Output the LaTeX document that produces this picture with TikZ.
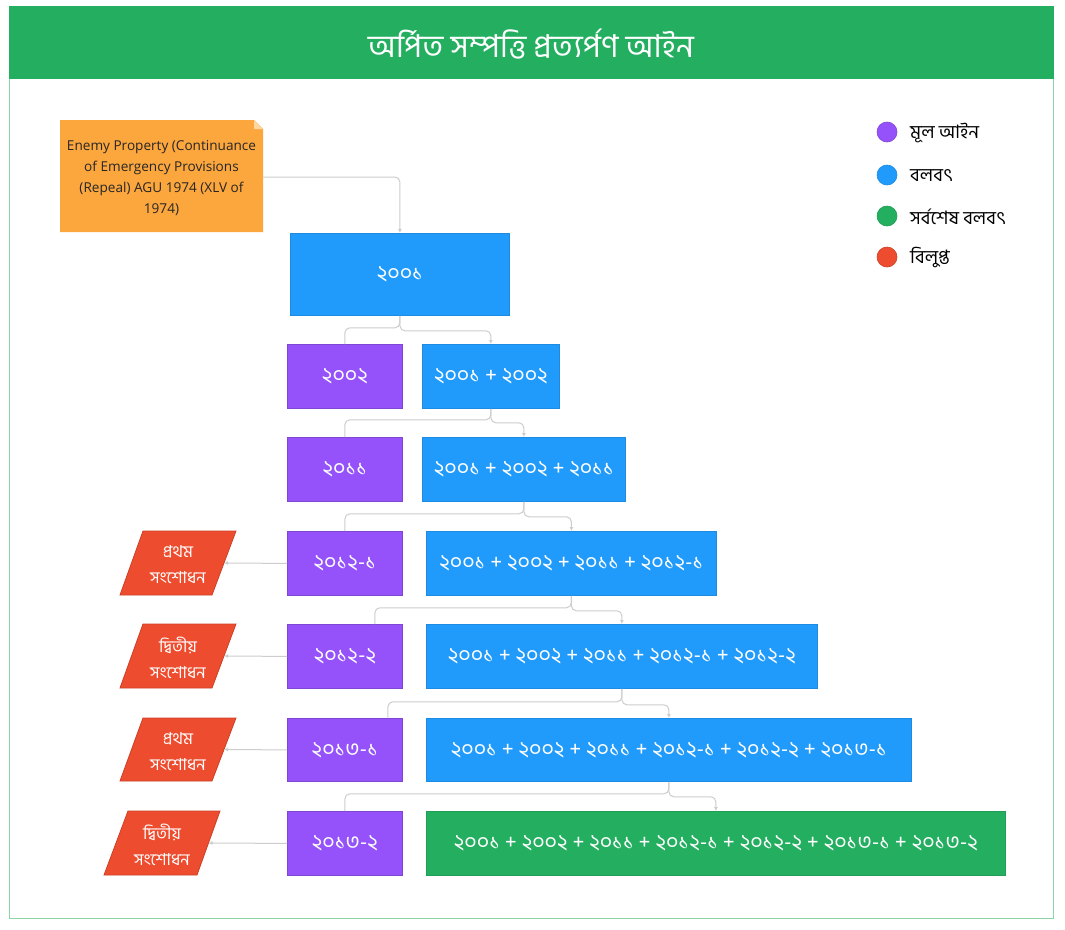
\documentclass[tikz,border=0pt]{standalone}
\usepackage{fontspec}
\setmainfont{Open Sans}
\newfontfamily\bn[Script=Bengali]{Hind Siliguri}
\usetikzlibrary{arrows.meta}
\definecolor{titlegreen}{RGB}{36,174,96}
\definecolor{framegreen}{RGB}{140,212,165}
\definecolor{cpurple}{RGB}{149,82,250}
\definecolor{cblue}{RGB}{33,155,251}
\definecolor{cgreen}{RGB}{36,174,96}
\definecolor{cred}{RGB}{238,76,46}
\definecolor{corange}{RGB}{252,166,62}
\definecolor{cfold}{RGB}{254,214,160}
\definecolor{cline}{RGB}{205,205,205}
\tikzset{
  box/.style={draw, line width=0.8pt, inner sep=0pt, anchor=north west,
    text=white, font=\bn\fontsize{21.6}{24}\selectfont, minimum height=64pt},
  pbox/.style={box, fill=cpurple, draw=cpurple!85!black, minimum width=115pt},
  bbox/.style={box, fill=cblue, draw=cblue!90!black},
  gbox/.style={box, fill=cgreen, draw=cgreen!90!black},
  redtext/.style={text=white, align=center, inner sep=0pt,
    font=\bn\fontsize{16.5}{26}\selectfont},
  redshape/.style={fill=cred, draw=cred!85!black, line width=0.8pt},
  conn/.style={draw=cline, line width=1pt, rounded corners=5pt},
  arr/.style={conn, -{Latex[length=4pt,width=4pt]}},
  legdot/.style={circle, inner sep=0pt, minimum size=20pt, line width=0.6pt},
  legtext/.style={anchor=west, inner sep=0pt, font=\bn\fontsize{18.5}{20}\selectfont}
}
\begin{document}
\begin{tikzpicture}[x=1pt,y=-1pt]
\useasboundingbox (0,0) rectangle (1065,929);
\fill[white] (0,0) rectangle (1065,929);
\draw[framegreen, line width=1pt, fill=white] (9.5,6.5) rectangle (1053,918);
\fill[titlegreen] (9,6) rectangle (1053.5,79);
\node[text=white, font=\bn\fontsize{31.5}{34}\selectfont] (title) at (531,44) {অর্পিত সম্পত্তি প্রত্যর্পণ আইন};

% note
\fill[corange] (60,120) -- (254,120) -- (263,129) -- (263,232) -- (60,232) -- cycle;
\fill[cfold] (254,120) -- (263,129) -- (254,129) -- cycle;
\node[minimum width=203pt, minimum height=112pt, inner sep=0pt, align=center,
  font=\fontsize{13.6}{21}\selectfont, text=black!85] (note) at (161.5,178)
  {Enemy Property (Continuance\\of Emergency Provisions\\(Repeal) AGU 1974 (XLV of\\1974)};

% boxes
\node[bbox, minimum width=219pt, minimum height=82pt] (b1) at (290,233) {২০০১};
\node[pbox] (p2) at (287,344) {২০০২};
\node[bbox, minimum width=137pt] (b2) at (422,344) {২০০১ + ২০০২};
\node[pbox] (p3) at (287,437) {২০১১};
\node[bbox, minimum width=203pt] (b3) at (422,437) {২০০১ + ২০০২ + ২০১১};
\node[pbox] (p4) at (287,531) {২০১২-১};
\node[bbox, minimum width=290pt] (b4) at (426,531) {২০০১ + ২০০২ + ২০১১ + ২০১২-১};
\node[pbox] (p5) at (287,624) {২০১২-২};
\node[bbox, minimum width=391pt] (b5) at (426,624) {২০০১ + ২০০২ + ২০১১ + ২০১২-১ + ২০১২-২};
\node[pbox, minimum height=63pt] (p6) at (287,718) {২০১৩-১};
\node[bbox, minimum width=485pt, minimum height=63pt] (b6) at (426,718) {২০০১ + ২০০২ + ২০১১ + ২০১২-১ + ২০১২-২ + ২০১৩-১};
\node[pbox] (p7) at (287,811) {২০১৩-২};
\node[gbox, minimum width=579pt] (g7) at (426,811) {২০০১ + ২০০২ + ২০১১ + ২০১২-১ + ২০১২-২ + ২০১৩-১ + ২০১৩-২};

% red parallelograms
\path[redshape] (143,531) -- (236,531) -- (212,595) -- (120,595) -- cycle;
\node[redtext] (r4) at (178,565) {প্রথম\\সংশোধন};
\coordinate (r4e) at (224,563);
\path[redshape] (143,624) -- (236,624) -- (212,688) -- (120,688) -- cycle;
\node[redtext] (r5) at (178,658) {দ্বিতীয়\\সংশোধন};
\coordinate (r5e) at (224,656);
\path[redshape] (143,718) -- (236,718) -- (212,781) -- (120,781) -- cycle;
\node[redtext] (r6) at (178,751.5) {প্রথম\\সংশোধন};
\coordinate (r6e) at (224,749.5);
\path[redshape] (128,811) -- (220,811) -- (197,875) -- (104,875) -- cycle;
\node[redtext] (r7) at (162,845) {দ্বিতীয়\\সংশোধন};
\coordinate (r7e) at (208.5,843);

% connectors
\draw[arr] (note.east |- 0,177) -| (b1.north);
\draw[conn] (b1.south) -- ++(0,12) -| (p2.north);
\draw[arr] (b1.south) -- ++(0,15) -| (b2.north);
\draw[conn] (b2.south) -- ++(0,11) -| (p3.north);
\draw[arr] (b2.south) -- ++(0,14) -| (b3.north);
\draw[conn] (b3.south) -- ++(0,12) -| (p4.north);
\draw[arr] (b3.south) -- ++(0,15) -| (b4.north);
\draw[conn] (b4.south) -- ++(0,12) -| ([xshift=30pt]p5.north);
\draw[arr] (b4.south) -- ++(0,15) -| (b5.north);
\draw[conn] (b5.south) -- ++(0,13) -| ([xshift=43pt]p6.north);
\draw[arr] (b5.south) -- ++(0,16) -| (b6.north);
\draw[conn] (b6.south) -- ++(0,12) -| (p7.north);
\draw[arr] (b6.south) -- ++(0,15) -| (g7.north);

\draw[arr] (p4.west) -- (r4e);
\draw[arr] (p5.west) -- (r5e);
\draw[arr] (p6.west) -- (r6e);
\draw[arr] (p7.west) -- (r7e);

% legend
\node[legdot, fill=cpurple, draw=cpurple!85!black] (l1) at (887,132) {};
\node[legtext] (lt1) at (910,133) {মূল আইন};
\node[legdot, fill=cblue, draw=cblue!90!black] (l2) at (887,175) {};
\node[legtext] (lt2) at (910,176) {বলবৎ};
\node[legdot, fill=cgreen, draw=cgreen!90!black] (l3) at (887,216) {};
\node[legtext] (lt3) at (910,217) {সর্বশেষ বলবৎ};
\node[legdot, fill=cred, draw=cred!85!black] (l4) at (887,257) {};
\node[legtext] (lt4) at (910,258) {বিলুপ্ত};
\end{tikzpicture}
\end{document}
